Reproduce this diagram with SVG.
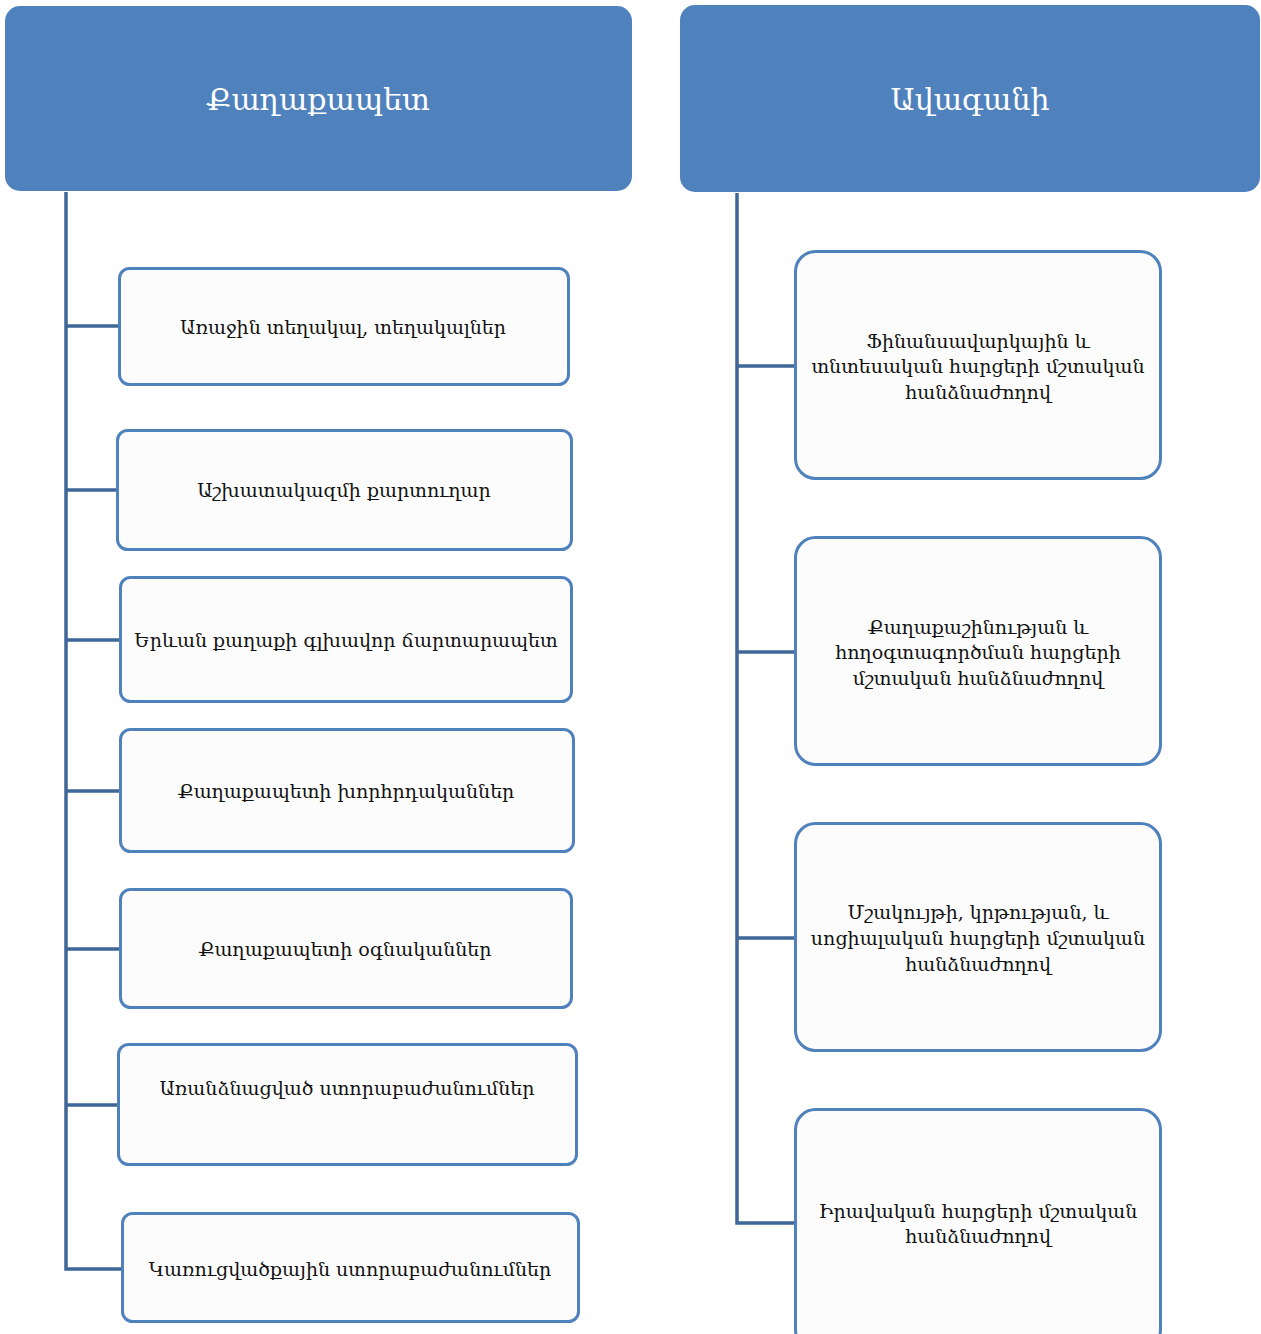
<svg xmlns="http://www.w3.org/2000/svg" width="1261" height="1334" viewBox="0 0 1261 1334">
<style>
.hdr{fill:#4F81BD;}
.hdrt{fill:#FFFFFF;font-family:"DejaVu Serif","Noto Sans",serif;font-size:30px;text-anchor:middle;dominant-baseline:central;}
.box{fill:#FCFCFC;stroke:#4F81BD;stroke-width:3;}
.t{fill:#111111;font-family:"DejaVu Serif","Noto Sans",serif;font-size:19px;text-anchor:middle;dominant-baseline:central;}
.c{fill:none;stroke:#3F6797;stroke-width:3.5;}
</style>
<rect width="1261" height="1334" fill="#FFFFFF"/>
<g id="connectors">
<path class="c" d="M66 192 V1269 H122"/>
<path class="c" d="M66 326 H119 M66 490 H117 M66 640 H120 M66 791 H120 M66 949 H120 M66 1105 H118"/>
<path class="c" d="M737 193 V1223 H795"/>
<path class="c" d="M737 366 H795 M737 652 H795 M737 938 H795"/>
</g>
<g id="head-left"><rect class="hdr" x="5" y="6" width="627" height="185" rx="15"/><text class="hdrt" x="318" y="99">Քաղաքապետ</text></g>
<g id="head-right"><rect class="hdr" x="680" y="5" width="580" height="187" rx="15"/><text class="hdrt" x="970" y="99">Ավագանի</text></g>
<g id="l1"><rect class="box" x="119.5" y="268.5" width="449" height="116" rx="10"/><text class="t" x="343" y="327">Առաջին տեղակալ, տեղակալներ</text></g>
<g id="l2"><rect class="box" x="117.5" y="430.5" width="454" height="119" rx="10"/><text class="t" x="344" y="490">Աշխատակազմի քարտուղար</text></g>
<g id="l3"><rect class="box" x="120.5" y="577.5" width="451" height="124" rx="10"/><text class="t" x="346" y="640">Երևան քաղաքի գլխավոր ճարտարապետ</text></g>
<g id="l4"><rect class="box" x="120.5" y="729.5" width="453" height="122" rx="10"/><text class="t" x="346" y="791">Քաղաքապետի խորհրդականներ</text></g>
<g id="l5"><rect class="box" x="120.5" y="889.5" width="451" height="118" rx="10"/><text class="t" x="345" y="949">Քաղաքապետի օգնականներ</text></g>
<g id="l6"><rect class="box" x="118.5" y="1044.5" width="458" height="120" rx="10"/><text class="t" x="347" y="1088">Առանձնացված ստորաբաժանումներ</text></g>
<g id="l7"><rect class="box" x="122.5" y="1213.5" width="456" height="108" rx="10"/><text class="t" x="350" y="1269">Կառուցվածքային ստորաբաժանումներ</text></g>
<g id="r1"><rect class="box" x="795.5" y="251.5" width="365" height="227" rx="20"/><text class="t" x="978"><tspan x="978" y="341">Ֆինանսավարկային և</tspan><tspan x="978" y="366">տնտեսական հարցերի մշտական</tspan><tspan x="978" y="392">հանձնաժողով</tspan></text></g>
<g id="r2"><rect class="box" x="795.5" y="537.5" width="365" height="227" rx="20"/><text class="t" x="978"><tspan x="978" y="627">Քաղաքաշինության և</tspan><tspan x="978" y="652">հողօգտագործման հարցերի</tspan><tspan x="978" y="678">մշտական հանձնաժողով</tspan></text></g>
<g id="r3"><rect class="box" x="795.5" y="823.5" width="365" height="227" rx="20"/><text class="t" x="978"><tspan x="978" y="912">Մշակույթի, կրթության, և</tspan><tspan x="978" y="938">սոցիալական հարցերի մշտական</tspan><tspan x="978" y="964">հանձնաժողով</tspan></text></g>
<g id="r4"><rect class="box" x="795.5" y="1109.5" width="365" height="240" rx="20"/><text class="t" x="978"><tspan x="978" y="1211">Իրավական հարցերի մշտական</tspan><tspan x="978" y="1236">հանձնաժողով</tspan></text></g>
</svg>
